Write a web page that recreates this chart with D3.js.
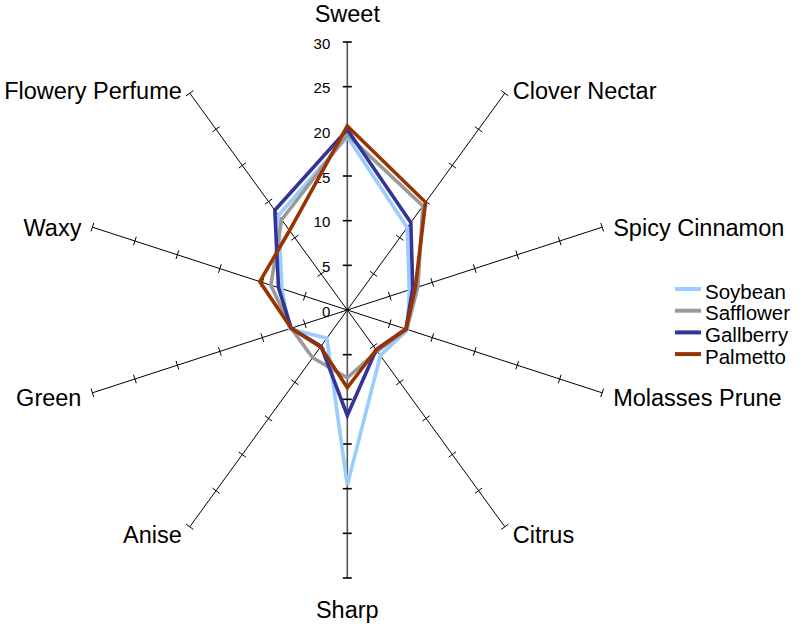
<!DOCTYPE html>
<html>
<head>
<meta charset="utf-8">
<script src="https://cdn.jsdelivr.net/npm/d3@7"></script>
<style>
  html, body { margin: 0; padding: 0; background: #fff; }
  svg { display: block; font-family: "Liberation Sans", Arial, sans-serif; }
</style>
</head>
<body>
<script>
const axesNames = ["Sweet","Clover Nectar","Spicy Cinnamon","Molasses Prune","Citrus","Sharp","Anise","Green","Waxy","Flowery Perfume"];
const tickValues = [0, 5, 10, 15, 20, 25, 30];
const seriesNames = ["Soybean","Safflower","Gallberry","Palmetto"];
const seriesColors = ["#99CCFF","#999999","#333399","#993300"];
const soybean   = [19.4, 11.4, 7.3, 7.1, 6.3, 19.6, 3.9, 6.8, 7.7, 13.1];
const safflower = [19.6, 14.4, 8.3, 7.0, 5.7, 7.6, 6.6, 6.6, 9.0, 12.5];
const gallberry = [20.2, 12.1, 7.7, 6.9, 5.5, 11.8, 5.0, 6.6, 8.1, 13.8];
const palmetto  = [20.6, 14.9, 8.0, 6.9, 5.5, 8.7, 5.1, 6.6, 10.3, 11.0];
const seriesValues = [soybean, safflower, gallberry, palmetto];

const W = 807, H = 624;
const cx = 347.3, cy = 310;
const svg = d3.select("body").append("svg").attr("width", W).attr("height", H);
const g = svg.append("g").attr("transform", `translate(${cx},${cy})`);

const r = d3.scaleLinear().domain([0, 30]).range([0, 268]);
const angle = d3.scaleLinear().domain([0, axesNames.length]).range([0, 2 * Math.PI]);

function pt(i, v) {
  const a = angle(i);
  return [Math.sin(a) * r(v), -Math.cos(a) * r(v)];
}

// axes
axesNames.forEach((name, i) => {
  const a = angle(i);
  const end = pt(i, 30);
  const vertical = Math.abs(Math.sin(a)) < 1e-6;
  g.append("line")
    .attr("x1", 0).attr("y1", 0).attr("x2", end[0]).attr("y2", end[1])
    .attr("stroke", vertical ? "#555" : "#000")
    .attr("stroke-width", vertical ? 1.6 : 1);
  tickValues.filter(t => t > 0).forEach(t => {
    const p = pt(i, t);
    const px = Math.cos(a), py = Math.sin(a);
    const L = 4.5;
    g.append("line")
      .attr("x1", p[0] - px * L).attr("y1", p[1] - py * L)
      .attr("x2", p[0] + px * L).attr("y2", p[1] + py * L)
      .attr("stroke", "#000").attr("stroke-width", vertical ? 1.6 : 1);
  });
  const ca = Math.cos(a), sa = Math.sin(a);
  let lx, ly, anchor;
  if (vertical) {
    lx = end[0];
    ly = ca > 0 ? end[1] - 28 : end[1] + 32;
    anchor = "middle";
  } else {
    const off = Math.abs(sa) > 0.9 ? 11 : 8;
    lx = end[0] + (sa > 0 ? off : -off);
    ly = end[1] + 3 - 7 * ca;
    anchor = sa > 0 ? "start" : "end";
  }
  g.append("text")
    .attr("x", lx).attr("y", ly)
    .attr("text-anchor", anchor)
    .attr("dominant-baseline", "central")
    .attr("font-size", 23.5)
    .attr("fill", "#000")
    .text(name);
});

// tick labels on the Sweet axis
tickValues.forEach(t => {
  g.append("text")
    .attr("x", -17).attr("y", -r(t) + 1)
    .attr("text-anchor", "end")
    .attr("dominant-baseline", "central")
    .attr("font-size", 15)
    .attr("fill", "#000")
    .text(t);
});

// series
const radial = d3.lineRadial()
  .angle((d, i) => angle(i))
  .radius(d => r(d))
  .curve(d3.curveLinearClosed);

seriesValues.forEach((vals, k) => {
  g.append("path")
    .attr("d", radial(vals))
    .attr("fill", "none")
    .attr("stroke", seriesColors[k])
    .attr("stroke-width", 3.6)
    .attr("stroke-linejoin", "miter");
});

// legend
const lg = svg.append("g").attr("transform", "translate(675,289)");
seriesNames.forEach((name, k) => {
  const y = k * 21.7;
  lg.append("line")
    .attr("x1", 0).attr("x2", 26).attr("y1", y).attr("y2", y)
    .attr("stroke", seriesColors[k]).attr("stroke-width", 4);
  lg.append("text")
    .attr("x", 30).attr("y", y + 2)
    .attr("dominant-baseline", "central")
    .attr("font-size", 20.5)
    .attr("fill", "#000")
    .text(name);
});
</script>
</body>
</html>
